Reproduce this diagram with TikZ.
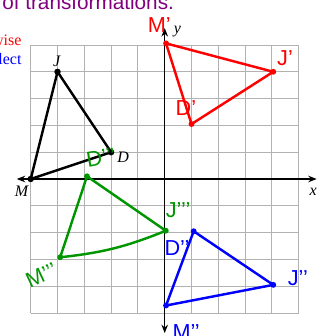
\documentclass[tikz,border=0pt]{standalone}
\usepackage{fontspec}
\setmainfont{Liberation Serif}
\setsansfont{Liberation Sans}
\usetikzlibrary{arrows.meta}
\colorlet{gridlines}{gray!60}
\definecolor{slidepurple}{RGB}{128,0,128}
\definecolor{penred}{RGB}{255,0,0}
\definecolor{pengreen}{RGB}{0,150,0}
\definecolor{penblue}{RGB}{0,0,255}
\tikzset{
    hand/.style={font=\sffamily\fontsize{23}{23}\selectfont, inner sep=0pt},
    ptlabel/.style={font=\itshape\fontsize{17}{17}\selectfont, inner sep=0pt},
    tri/.style={line width=2.6pt, line join=round},
    axis/.style={line width=1.2pt, {Stealth[length=9pt,width=7pt,inset=3pt]}-{Stealth[length=9pt,width=7pt,inset=3pt]}},
}

\begin{document}
\begin{tikzpicture}
        % page
        \useasboundingbox (-6.146,-5.858) rectangle (5.832,6.679);
        \clip (-6.146,-5.858) rectangle (5.832,6.679);
        % slide text, cut off at the page edge
        \node[anchor=base east, inner sep=0pt, text=slidepurple, font=\sffamily\fontsize{22}{22}\selectfont] (title) at (0.35,6.332) {of transformations.};
        \node[anchor=base east, inner sep=0pt, text=penred, font=\fontsize{17}{17}\selectfont] (step1) at (-5.336,4.998) {counterclockwise};
        \node[anchor=base east, inner sep=0pt, text=penblue, font=\fontsize{17}{17}\selectfont] (step2) at (-5.336,4.254) {reflect};
        % vertex coordinates
        \coordinate (M) at (-5,0);
        \coordinate (J) at (-4,4);
        \coordinate (D) at (-2,1);
        \coordinate (M1) at (0.05,5.06);
        \coordinate (J1) at (4.05,4.0);
        \coordinate (D1) at (1.0,2.05);
        \coordinate (M2) at (0.05,-4.72);
        \coordinate (J2) at (4.05,-3.95);
        \coordinate (D2) at (1.08,-1.95);
        \coordinate (M3) at (-3.9,-2.92);
        \coordinate (J3) at (0.04,-1.93);
        \coordinate (D3) at (-2.9,0.1);
        % axis ends
        \coordinate (xl) at (-5.52,0);
        \coordinate (xr) at (5.67,0);
        \coordinate (yt) at (0,5.63);
        \coordinate (yb) at (0,-5.75);
        % grid
        \draw[gridlines, line width=1pt] (-5,-5) grid (5,5);
        % axes
        \draw[axis] (xl) -- (xr);
        \draw[axis] (yb) -- (yt);
        \node[ptlabel] (xlab) at (5.54,-0.49) {x};
        \node[ptlabel] (ylab) at (0.47,5.5) {y};
        % original triangle
        \draw[tri] (M) -- (J) -- (D) -- cycle;
        \foreach \p in {M,J,D}
        {
            \fill (\p) circle (0.12);
        }
        \node[ptlabel] (lJ) at (-4.03,4.4) {J};
        \node[ptlabel] (lD) at (-1.55,0.8) {D};
        \node[ptlabel] (lM) at (-5.34,-0.47) {M};
        % rotation: red
        \draw[tri, penred] (M1) -- (J1) -- (D1) -- cycle;
        \foreach \p in {M1,J1,D1}
        {
            \fill[penred] (\p) circle (0.11);
        }
        \node[hand, penred] (lM1) at (-0.2,5.74) {M'};
        \node[hand, penred] (lJ1) at (4.49,4.5) {J'};
        \node[hand, penred] (lD1) at (0.79,2.65) {D'};
        % reflection: blue
        \draw[tri, penblue] (M2) -- (J2) -- (D2) -- cycle;
        \foreach \p in {M2,J2,D2}
        {
            \fill[penblue] (\p) circle (0.11);
        }
        \node[hand, penblue] (lM2) at (0.8,-5.7) {M'{}'};
        \node[hand, penblue] (lJ2) at (4.97,-3.69) {J'{}'};
        \node[hand, penblue] (lD2) at (0.46,-2.57) {D'{}'};
        % translation: green
        \draw[tri, pengreen] (M3) to[bend right=8] (J3) -- (D3) -- cycle;
        \foreach \p in {M3,J3,D3}
        {
            \fill[pengreen] (\p) circle (0.11);
        }
        \node[hand, pengreen, rotate=25] (lM3) at (-4.6,-3.6) {M'{}'{}'};
        \node[hand, pengreen] (lJ3) at (0.5,-1.16) {J'{}'{}'};
        \node[hand, pengreen, rotate=10] (lD3) at (-2.38,0.8) {D'{}'{}'};
\end{tikzpicture}
\end{document}
